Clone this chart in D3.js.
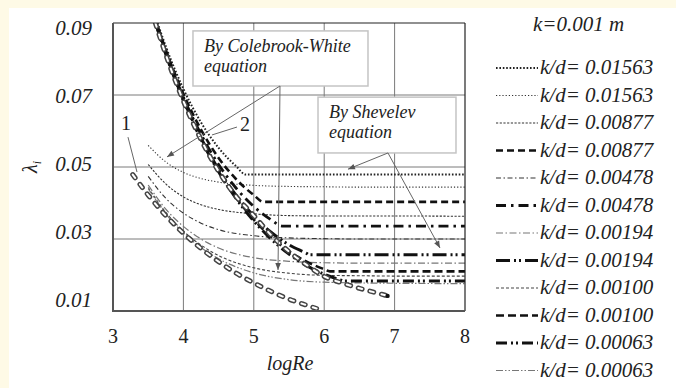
<!DOCTYPE html>
<html><head><meta charset="utf-8">
<script src="https://cdn.jsdelivr.net/npm/d3@7"></script>
<style>html,body{margin:0;padding:0;background:#fff;}svg{display:block;}
text{font-family:"Liberation Serif","Times New Roman",Times,"DejaVu Serif",serif;}</style>
</head><body><div id="chart"></div>
<script>
// ---------- data ----------
const xTicks = [3, 4, 5, 6, 7, 8];
const yTicks = [0.01, 0.03, 0.05, 0.07, 0.09];
const yLabels = ["0.01", "0.03", "0.05", "0.07", "0.09"];

// Colebrook-White (thin lines)
const cwLogRe = [3.5, 3.75, 4, 4.25, 4.5, 5, 5.5, 6, 6.5, 7, 8];
const cw01563 = [0.0560, 0.0514, 0.0485, 0.0468, 0.0458, 0.0449, 0.0446, 0.0445, 0.0444, 0.0444, 0.0444];
const cw00877 = [0.0507, 0.0453, 0.0417, 0.0395, 0.0382, 0.0370, 0.0365, 0.0364, 0.0364, 0.0364, 0.0363];
const cw00478 = [0.0474, 0.0413, 0.0372, 0.0344, 0.0326, 0.0309, 0.0303, 0.0301, 0.0300, 0.0300, 0.0300];
const cw00194 = [0.0450, 0.0383, 0.0335, 0.0300, 0.0275, 0.0248, 0.0238, 0.0234, 0.0233, 0.0233, 0.0233];
const cw00100 = [0.0443, 0.0374, 0.0322, 0.0283, 0.0254, 0.0220, 0.0205, 0.0199, 0.0198, 0.0197, 0.0197];
const cw00063 = [0.0440, 0.0370, 0.0317, 0.0276, 0.0245, 0.0206, 0.0187, 0.0180, 0.0178, 0.0177, 0.0176];

// Shevelev (thick lines)
const svLogRe01563 = [3.5, 3.75, 4, 4.25, 4.5, 4.75, 4.885, 8];
const sv01563 = [0.0981, 0.0835, 0.0717, 0.0624, 0.0553, 0.0502, 0.0479, 0.0479];
const svLogRe00877 = [3.5, 3.75, 4, 4.25, 4.5, 4.75, 5, 5.136, 8];
const sv00877 = [0.0974, 0.0825, 0.0703, 0.0604, 0.0525, 0.0466, 0.0422, 0.0403, 0.0403];
const svLogRe00478 = [3.5, 3.75, 4, 4.25, 4.5, 4.75, 5, 5.25, 5.40, 8];
const sv00478 = [0.0970, 0.0819, 0.0694, 0.0591, 0.0507, 0.0441, 0.0390, 0.0353, 0.0336, 0.0336];
const svLogRe00194 = [3.5, 3.75, 4, 4.25, 4.5, 4.75, 5, 5.25, 5.5, 5.75, 5.79, 8];
const sv00194 = [0.0967, 0.0815, 0.0687, 0.0581, 0.0493, 0.0421, 0.0364, 0.0318, 0.0284, 0.0260, 0.0256, 0.0256];
const svLogRe00100 = [3.5, 3.75, 4, 4.25, 4.5, 4.75, 5, 5.25, 5.5, 5.75, 6, 6.08, 8];
const sv00100 = [0.0966, 0.0813, 0.0685, 0.0578, 0.0489, 0.0415, 0.0354, 0.0305, 0.0266, 0.0237, 0.0216, 0.0210, 0.0210];
const svLogRe00063 = [3.5, 3.75, 4, 4.25, 4.5, 4.75, 5, 5.25, 5.5, 5.75, 6, 6.25, 6.28, 8];
const sv00063 = [0.0965, 0.0813, 0.0684, 0.0577, 0.0487, 0.0412, 0.0350, 0.0299, 0.0258, 0.0226, 0.0202, 0.0185, 0.0183, 0.0183];

// curve 1 and curve 2 (hollow dashed)
const c1LogRe = [3.28, 3.5, 3.75, 4, 4.25, 4.5, 4.75, 5, 5.25, 5.5, 5.75, 6];
const c1Lambda = [0.0479, 0.0422, 0.0365, 0.0316, 0.0274, 0.0237, 0.0205, 0.0178, 0.0154, 0.0133, 0.0116, 0.0100];
const c2LogRe = [3.5, 3.75, 4, 4.25, 4.5, 4.75, 5, 5.25, 5.5, 5.75, 6, 6.25, 6.5, 6.75, 6.9];
const c2Lambda = [0.0964, 0.0812, 0.0683, 0.0576, 0.0488, 0.0418, 0.0365, 0.0310, 0.0265, 0.0228, 0.0196, 0.0178, 0.0163, 0.0150, 0.0142];

const legendLabels = ["k/d= 0.01563", "k/d= 0.01563", "k/d= 0.00877", "k/d= 0.00877",
  "k/d= 0.00478", "k/d= 0.00478", "k/d= 0.00194", "k/d= 0.00194",
  "k/d= 0.00100", "k/d= 0.00100", "k/d= 0.00063", "k/d= 0.00063"];

// ---------- styles ----------
const styles = {
  sv01563: {w: 2, c: "#222", d: "1.6,1.8"},
  cw01563: {w: 1.1, c: "#333", d: "1.2,2"},
  cw00877: {w: 1.1, c: "#333", d: "2.2,1.5"},
  sv00877: {w: 2.6, c: "#111", d: "7,4"},
  cw00478: {w: 1.1, c: "#333", d: "5,2.5,1.5,2.5"},
  sv00478: {w: 2.8, c: "#111", d: "10,5,2.5,5"},
  cw00194: {w: 1.2, c: "#777", d: "7,2.5,1.5,2.5"},
  sv00194: {w: 3, c: "#111", d: "14,4,2,3,2,4"},
  cw00100: {w: 1.1, c: "#444", d: "3,2"},
  sv00100: {w: 2.6, c: "#111", d: "8,4"},
  sv00063: {w: 3, c: "#111", d: "11,4,2,3,2,4"},
  cw00063: {w: 1.2, c: "#777", d: "7,2,1.5,2,1.5,2"}
};
const legendKeys = ["sv01563", "cw01563", "cw00877", "sv00877", "cw00478", "sv00478",
  "cw00194", "sv00194", "cw00100", "sv00100", "sv00063", "cw00063"];

const W = 676, H = 388;
const svg = d3.select("#chart").append("svg").attr("width", W).attr("height", H);
svg.append("rect").attr("width", W).attr("height", H).attr("fill", "#fefae6");
svg.append("rect").attr("x", 9).attr("y", 8).attr("width", W - 9).attr("height", H - 8).attr("fill", "#fff");

const x = d3.scaleLinear().domain([3, 8]).range([113, 465]);
const y = d3.scaleLinear().domain([0.01, 0.09]).range([311, 23]);
const yLab = d3.scaleLinear().domain([0.01, 0.09]).range([300, 28]);

svg.append("defs").append("clipPath").attr("id", "clip").append("rect")
  .attr("x", x(3)).attr("y", y(0.09)).attr("width", x(8) - x(3)).attr("height", y(0.01) - y(0.09));
const mk = svg.select("defs").append("marker").attr("id", "arr").attr("viewBox", "0 0 10 10")
  .attr("refX", 10).attr("refY", 5).attr("markerWidth", 9).attr("markerHeight", 7)
  .attr("markerUnits", "userSpaceOnUse").attr("orient", "auto");
mk.append("path").attr("d", "M0,1 L10,5 L0,9 Z").attr("fill", "#555");

// grid
const g = svg.append("g");
g.selectAll(".vg").data(xTicks.slice(1, -1)).join("line")
  .attr("x1", d => x(d)).attr("x2", d => x(d)).attr("y1", y(0.09)).attr("y2", y(0.01))
  .attr("stroke", "#7a7a7a").attr("stroke-width", 1);
g.selectAll(".hg").data(yTicks.slice(1, -1)).join("line")
  .attr("y1", d => y(d)).attr("y2", d => y(d)).attr("x1", x(3)).attr("x2", x(8))
  .attr("stroke", "#7a7a7a").attr("stroke-width", 1);

// lines
const lines = svg.append("g").attr("clip-path", "url(#clip)");
const lineGen = d3.line().x(d => x(d[0])).y(d => y(d[1])).curve(d3.curveMonotoneX);
const zip = (a, b) => a.map((v, i) => [v, b[i]]);
const series = [
  ["cw01563", zip(cwLogRe, cw01563)], ["cw00877", zip(cwLogRe, cw00877)],
  ["cw00478", zip(cwLogRe, cw00478)], ["cw00194", zip(cwLogRe, cw00194)],
  ["cw00100", zip(cwLogRe, cw00100)], ["cw00063", zip(cwLogRe, cw00063)],
  ["sv01563", zip(svLogRe01563, sv01563)], ["sv00877", zip(svLogRe00877, sv00877)],
  ["sv00478", zip(svLogRe00478, sv00478)], ["sv00194", zip(svLogRe00194, sv00194)],
  ["sv00100", zip(svLogRe00100, sv00100)], ["sv00063", zip(svLogRe00063, sv00063)]
];
series.forEach(([k, pts]) => {
  const s = styles[k];
  lines.append("path").attr("d", lineGen(pts)).attr("fill", "none")
    .attr("stroke", s.c).attr("stroke-width", s.w).attr("stroke-dasharray", s.d);
});
// hollow curves
[zip(c1LogRe, c1Lambda), zip(c2LogRe, c2Lambda)].forEach(pts => {
  lines.append("path").attr("d", lineGen(pts)).attr("fill", "none").attr("stroke", "#444")
    .attr("stroke-width", 5).attr("stroke-linecap", "round").attr("stroke-dasharray", "4,8");
  lines.append("path").attr("d", lineGen(pts)).attr("fill", "none").attr("stroke", "#fff")
    .attr("stroke-width", 2).attr("stroke-linecap", "round").attr("stroke-dasharray", "4,8");
});
const c2End = [c2LogRe[c2LogRe.length - 1], c2Lambda[c2Lambda.length - 1]];
svg.append("circle").attr("cx", x(c2End[0])).attr("cy", y(c2End[1])).attr("r", 2.2).attr("fill", "#111");

// frame
svg.append("line").attr("x1", x(3)).attr("x2", x(8)).attr("y1", y(0.09)).attr("y2", y(0.09)).attr("stroke", "#222").attr("stroke-width", 1.2);
svg.append("line").attr("x1", x(8)).attr("x2", x(8)).attr("y1", y(0.09)).attr("y2", y(0.01)).attr("stroke", "#222").attr("stroke-width", 1.2);
svg.append("line").attr("x1", x(3)).attr("x2", x(3)).attr("y1", y(0.09)).attr("y2", y(0.01) + 1).attr("stroke", "#555").attr("stroke-width", 2);
svg.append("line").attr("x1", x(3) - 1).attr("x2", x(8)).attr("y1", y(0.01)).attr("y2", y(0.01)).attr("stroke", "#555").attr("stroke-width", 2);

// annotation boxes and leaders
function box(x0, x1, y0, y1, texts) {
  svg.append("rect").attr("x", x(x0)).attr("y", y(y0)).attr("width", x(x1) - x(x0)).attr("height", y(y1) - y(y0))
    .attr("fill", "#fff").attr("stroke", "#c4c4c4").attr("stroke-width", 1.5);
  texts.forEach((t, i) => svg.append("text").attr("x", x(x0) + 11).attr("y", y(y0) + 21 + i * 20)
    .attr("font-style", "italic").attr("font-size", 18).attr("fill", "#222").text(t));
}
function leader(a, b, arrow) {
  const l = svg.append("line").attr("x1", x(a[0])).attr("y1", y(a[1])).attr("x2", x(b[0])).attr("y2", y(b[1]))
    .attr("stroke", "#666").attr("stroke-width", 1);
  if (arrow) l.attr("marker-end", "url(#arr)");
}
box(4.136, 6.622, 0.0878, 0.0725, ["By Colebrook-White", "equation"]);
leader([5.372, 0.0725], [3.767, 0.0528], true);
leader([5.372, 0.0725], [5.344, 0.0214], true);
box(5.912, 7.872, 0.0694, 0.0539, ["By Shevelev", "equation"]);
leader([6.906, 0.0539], [6.338, 0.0494], true);
leader([6.906, 0.0539], [7.645, 0.0275], true);
leader([4.761, 0.0611], [4.406, 0.0589], false);
leader([3.213, 0.0583], [3.341, 0.0486], false);
svg.append("text").attr("x", x(3.185)).attr("y", y(0.0622)).attr("dy", "0.35em").attr("text-anchor", "middle")
  .attr("font-size", 20).attr("fill", "#222").text("1");
svg.append("text").attr("x", x(4.875)).attr("y", y(0.0619)).attr("dy", "0.35em").attr("text-anchor", "middle")
  .attr("font-size", 20).attr("fill", "#222").text("2");

// axis labels
svg.append("g").selectAll("text").data(yTicks).join("text")
  .attr("x", 92).attr("y", d => yLab(d)).attr("dy", "0.35em").attr("text-anchor", "end")
  .attr("font-style", "italic").attr("font-size", 21).attr("fill", "#222")
  .text((d, i) => yLabels[i]);
svg.append("g").selectAll("text").data(xTicks).join("text")
  .attr("x", d => x(d)).attr("y", 343).attr("text-anchor", "middle")
  .attr("font-size", 20).attr("fill", "#222").text(d => d);
svg.append("text").attr("x", 290).attr("y", 370).attr("text-anchor", "middle")
  .attr("font-style", "italic").attr("font-size", 20).attr("fill", "#222").text("logRe");
const yt = svg.append("text").attr("transform", "translate(37,167) rotate(-90)").attr("text-anchor", "middle")
  .attr("font-style", "italic").attr("font-size", 20).attr("fill", "#222");
yt.append("tspan").text("λ");
yt.append("tspan").attr("font-size", 12).attr("dy", 4).text("i");

// legend
svg.append("text").attr("x", 533).attr("y", 31).attr("font-style", "italic")
  .attr("font-size", 21).attr("fill", "#222").text("k=0.001 m");
const ly = d3.scaleLinear().domain([0, 11]).range([68, 370.5]);
const lg = svg.append("g").selectAll("g").data(legendKeys).join("g")
  .attr("transform", (d, i) => `translate(0,${ly(i)})`);
lg.append("line").attr("x1", 496).attr("x2", 538).attr("y1", 0).attr("y2", 0)
  .attr("stroke", d => styles[d].c).attr("stroke-width", d => styles[d].w)
  .attr("stroke-dasharray", d => styles[d].d);
lg.append("text").attr("x", 540).attr("y", 6).attr("font-style", "italic")
  .attr("font-size", 21).attr("fill", "#222").text((d, i) => legendLabels[i]);
</script></body></html>
